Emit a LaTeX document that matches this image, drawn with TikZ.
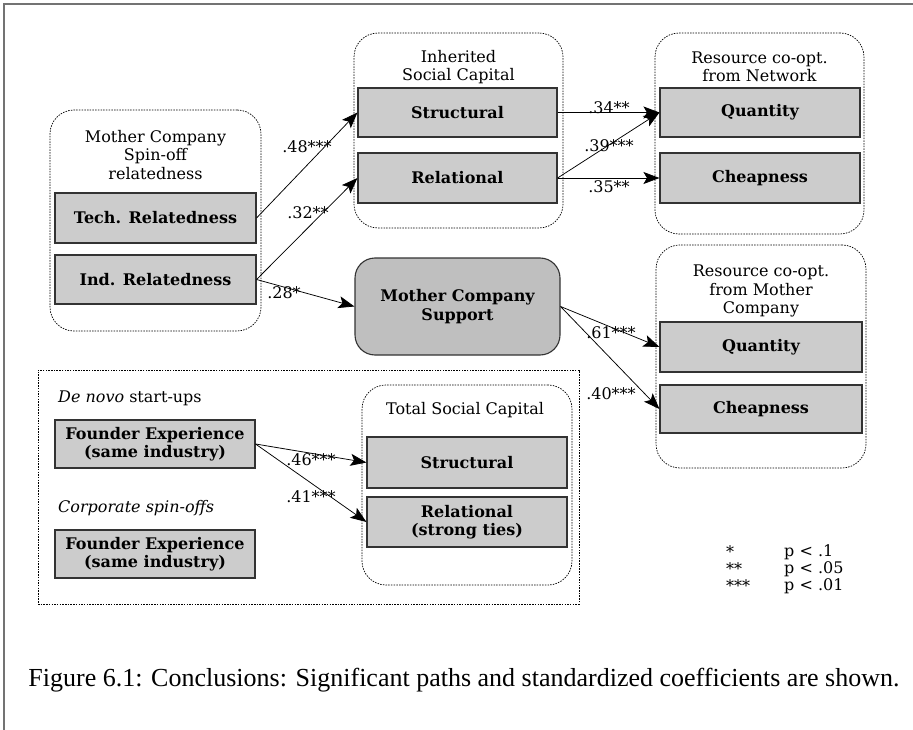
\documentclass[tikz,border=0pt]{standalone}
\usepackage{fontspec}
\setmainfont{DejaVu Serif}
\newfontfamily\capfont{Liberation Serif}
\usetikzlibrary{arrows.meta}
\begin{document}
\begin{tikzpicture}[x=1pt,y=-1pt,
  every node/.style={font=\fontsize{16}{18.5}\selectfont, inner sep=0pt},
  grp/.style={draw, line width=0.7pt, dash pattern=on 1.5pt off 1.2pt, rounded corners=24pt},
  rgrp/.style={draw, line width=0.7pt, dash pattern=on 1.5pt off 1.2pt},
  bx/.style={draw=black!80, fill=black!20, line width=1.1pt, font=\fontsize{16}{18.5}\selectfont\bfseries, align=center},
  sup/.style={bx, fill=black!25, rounded corners=20pt},
  lbl/.style={align=center},
  arr/.style={-{Stealth[length=16pt,width=12pt,inset=3.5pt]}, line width=0.75pt},
]
\useasboundingbox (0,0) rectangle (913,730);
% frame
\draw[black!55, line width=2pt] (3,4) -- (913,4);
\draw[black!55, line width=2pt] (4,4) -- (4,730);

% Mother company group
\node[grp, minimum width=211pt, minimum height=221pt] (gmother) at (155.5,220.5) {};
\node[lbl] (lmother) at (155.5,155) {Mother Company\\Spin-off\\relatedness};
\node[bx, minimum width=201pt, minimum height=50pt] (tech) at (155.5,218) {Tech. Relatedness};
\node[bx, minimum width=201pt, minimum height=49pt] (ind) at (155.5,279.5) {Ind. Relatedness};

% Inherited social capital
\node[grp, minimum width=209pt, minimum height=195pt] (ginh) at (458.5,130.5) {};
\node[lbl] (linh) at (458.5,67) {Inherited\\Social Capital};
\node[bx, minimum width=199pt, minimum height=49pt] (str) at (457.5,112.5) {Structural};
\node[bx, minimum width=199pt, minimum height=50pt] (rel) at (457.5,178) {Relational};

% Resource from network
\node[grp, minimum width=209pt, minimum height=201pt] (gnet) at (759.5,133.5) {};
\node[lbl] (lnet) at (759.5,67) {Resource co-opt.\\from Network};
\node[bx, minimum width=200pt, minimum height=49pt] (qn) at (760,112.5) {Quantity};
\node[bx, minimum width=200pt, minimum height=50pt] (cn) at (760,178) {Cheapness};

% Mother company support
\node[sup, minimum width=205pt, minimum height=97pt] (supp) at (457.5,306.5) {Mother Company\\Support};

% Resource from mother company
\node[grp, minimum width=210pt, minimum height=223pt] (gmc) at (761,356.5) {};
\node[lbl] (lmc) at (761,291) {Resource co-opt.\\from Mother\\Company};
\node[bx, minimum width=202pt, minimum height=50pt] (qm) at (761,347) {Quantity};
\node[bx, minimum width=202pt, minimum height=48pt] (cm) at (761,409) {Cheapness};

% bottom panel
\node[rgrp, minimum width=541pt, minimum height=234pt] (gbot) at (308.5,487) {};
\node[anchor=west] (denovo) at (58,398) {\textit{De novo} start-ups};
\node[bx, minimum width=200pt, minimum height=48pt] (f1) at (155,444) {Founder Experience\\(same industry)};
\node[anchor=west] (corp) at (58,508) {\textit{Corporate spin-offs}};
\node[bx, minimum width=200pt, minimum height=48pt] (f2) at (155,554) {Founder Experience\\(same industry)};
\node[grp, minimum width=210pt, minimum height=200pt] (gtot) at (467,485) {};
\node[lbl] (ltot) at (465,410) {Total Social Capital};
\node[bx, minimum width=200pt, minimum height=51pt] (str3) at (467,462.5) {Structural};
\node[bx, minimum width=200pt, minimum height=50pt] (rel3) at (467,522) {Relational\\(strong ties)};

% arrows
\draw[arr] (tech.east) -- (str.west);
\draw[arr] (ind.east) -- (rel.west);
\draw[arr] (ind.east) -- (supp.west);
\draw[arr] (str.east) -- (qn.west);
\draw[arr] (rel.east) -- (qn.west);
\draw[arr] (rel.east) -- (cn.west);
\draw[arr] (supp.east) -- (qm.west);
\draw[arr] (supp.east) -- (cm.west);
\draw[arr] (f1.east) -- (str3.west);
\draw[arr] (f1.east) -- (rel3.west);

% coefficients
\node (c48) at (307,147) {.48***};
\node (c32) at (308,213) {.32**};
\node (c28) at (284,293) {.28*};
\node (c34) at (609,108) {.34**};
\node (c39) at (609,146) {.39***};
\node (c35) at (609,187) {.35**};
\node (c61) at (611,333) {.61***};
\node (c40) at (611,394) {.40***};
\node (c46) at (311,460) {.46***};
\node (c41) at (311,497) {.41***};

% legend
\node[anchor=west] (s1) at (726,552) {*};
\node[anchor=west] (p1) at (784,552) {p < .1};
\node[anchor=west] (s2) at (726,569) {**};
\node[anchor=west] (p2) at (784,569) {p < .05};
\node[anchor=west] (s3) at (726,586) {***};
\node[anchor=west] (p3) at (784,586) {p < .01};

% caption
\node[font=\capfont\fontsize{26}{31}\selectfont] (cap) at (464,680) {Figure 6.1: Conclusions: Significant paths and standardized coefficients are shown.};
\end{tikzpicture}
\end{document}
